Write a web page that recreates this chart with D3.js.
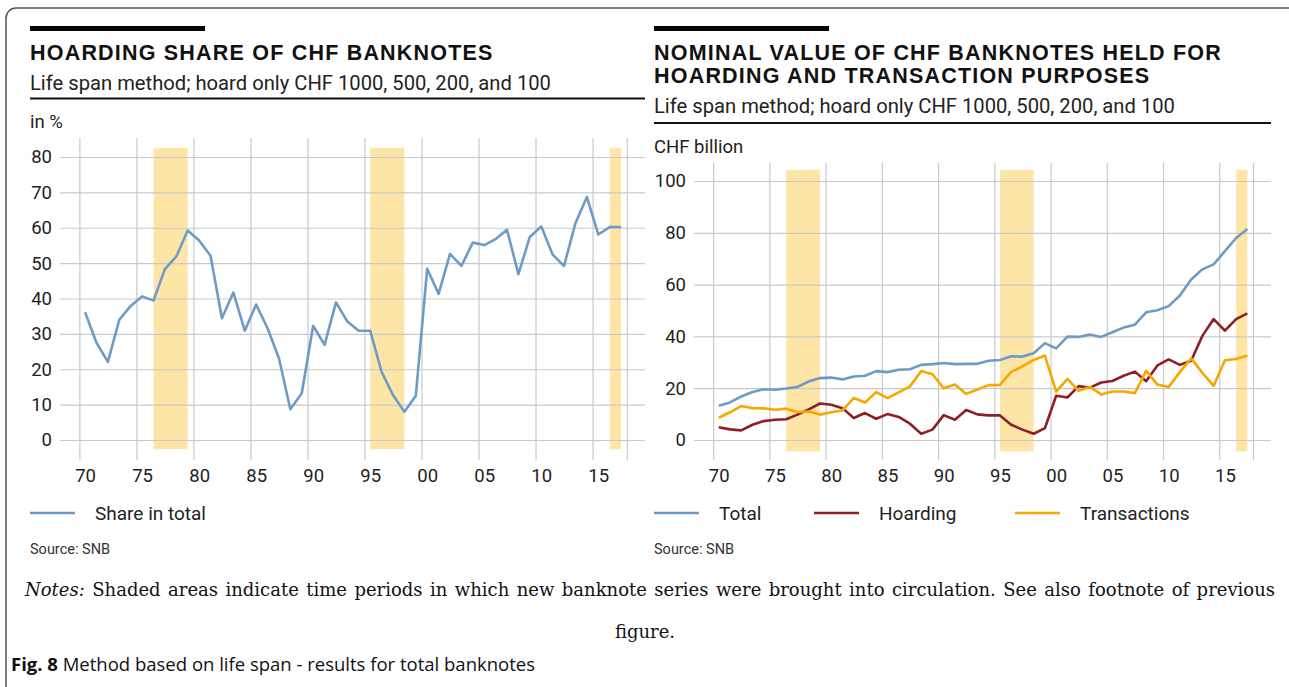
<!DOCTYPE html>
<html>
<head>
<meta charset="utf-8">
<script src="https://cdn.jsdelivr.net/npm/d3@7"></script>
<style>
  body { margin: 0; background: #fff; }
  svg text { font-family: Roboto, "Liberation Sans", sans-serif; fill: #222; }
  .grid line { stroke: #c9c9c9; stroke-width: 1.2; }
  .grid path { display: none; }
</style>
</head>
<body>
<div id="root"></div>
<script>
const years = [
  1970, 1971, 1972, 1973, 1974, 1975, 1976, 1977, 1978, 1979,
  1980, 1981, 1982, 1983, 1984, 1985, 1986, 1987, 1988, 1989,
  1990, 1991, 1992, 1993, 1994, 1995, 1996, 1997, 1998, 1999,
  2000, 2001, 2002, 2003, 2004, 2005, 2006, 2007, 2008, 2009,
  2010, 2011, 2012, 2013, 2014, 2015, 2016, 2017
]

// hoarding share, in %
const shareInTotal = [
  36.1, 27.5, 22.1, 34.0, 37.9, 40.6, 39.4, 48.3, 51.9, 59.2,
  56.4, 52.1, 34.4, 41.7, 30.9, 38.3, 31.6, 23.1, 8.7, 13.2,
  32.3, 26.9, 38.9, 33.5, 30.9, 30.9, 19.3, 12.7, 8.0, 12.5,
  48.4, 41.3, 52.6, 49.2, 55.8, 55.1, 56.8, 59.4, 46.9, 57.4,
  60.4, 52.4, 49.2, 61.3, 68.7, 58.1, 60.2, 60.2
]

// CHF billion
const totalNotes = [
  13.2, 14.5, 16.8, 18.5, 19.6, 19.4, 19.9, 20.5, 22.6, 23.9,
  24.1, 23.4, 24.5, 24.8, 26.6, 26.2, 27.1, 27.3, 29.0, 29.3,
  29.7, 29.3, 29.4, 29.4, 30.6, 30.9, 32.3, 32.2, 33.5, 37.4,
  35.4, 39.9, 39.8, 40.7, 39.8, 41.6, 43.4, 44.5, 49.3, 50.1,
  51.7, 55.8, 62.0, 65.9, 67.8, 72.9, 78.0, 81.5
]

const hoardingNotes = [
  4.9, 4.1, 3.7, 5.9, 7.3, 7.8, 8.0, 9.8, 11.8, 14.1,
  13.6, 12.3, 8.5, 10.4, 8.2, 10.0, 8.9, 6.3, 2.4, 4.0,
  9.6, 7.8, 11.6, 9.9, 9.5, 9.5, 5.9, 4.0, 2.4, 4.6,
  17.1, 16.4, 20.8, 20.2, 22.2, 22.8, 24.8, 26.4, 22.7, 28.8,
  31.1, 29.0, 30.6, 40.2, 46.7, 42.2, 46.7, 48.9
]

const transactionNotes = [
  8.6, 10.7, 13.1, 12.3, 12.2, 11.7, 12.1, 10.8, 11.0, 9.8,
  10.7, 11.4, 16.2, 14.5, 18.5, 16.2, 18.4, 20.7, 26.6, 25.4,
  20.0, 21.4, 17.8, 19.5, 21.2, 21.3, 26.3, 28.4, 30.9, 32.6,
  18.7, 23.6, 19.0, 20.5, 17.6, 18.7, 18.7, 18.1, 26.7, 21.4,
  20.5, 26.2, 31.5, 25.9, 20.9, 30.8, 31.3, 32.6
]

// new banknote series brought into circulation
const newSeriesPeriods = [[1976.5, 1979.5], [1995.5, 1998.5], [2016.5, 2017.5]]

const gridYears = [1970, 1975, 1980, 1985, 1990, 1995, 2000, 2005, 2010, 2015, 2018]
const labelYears = [1970, 1975, 1980, 1985, 1990, 1995, 2000, 2005, 2010, 2015]
const shareTicks = [0, 10, 20, 30, 40, 50, 60, 70, 80]
const valueTicks = [0, 20, 40, 60, 80, 100]

const colors = { total: '#6e9bc5', hoarding: '#8e1f24', transactions: '#f6a800', band: '#fde5a8' }

const W = 1289, H = 687
const svg = d3.select('#root').append('svg')
  .attr('width', W)
  .attr('height', H)

// frame round the figure
svg.append('rect')
  .attr('x', 6).attr('y', 8)
  .attr('width', 1300).attr('height', 700)
  .attr('rx', 10)
  .attr('fill', 'none')
  .attr('stroke', '#555')
  .attr('stroke-width', 1.5)

function header(x, ruleEnd, titles, subY, ruleY, unitY, unit) {
  svg.append('rect')
    .attr('x', x).attr('y', 26)
    .attr('width', 175).attr('height', 5)
    .attr('fill', '#000')
  titles.forEach((t, i) => {
    svg.append('text')
      .attr('x', x).attr('y', 60 + i * 23)
      .style('font-family', '"Liberation Sans", Arial, sans-serif')
      .style('font-weight', 'bold')
      .style('font-size', '21.5px')
      .style('letter-spacing', '1.2px')
      .style('fill', '#111')
      .text(t)
  })
  svg.append('text')
    .attr('x', x).attr('y', subY)
    .style('font-size', '20.2px')
    .text('Life span method; hoard only CHF 1000, 500, 200, and 100')
  svg.append('line')
    .attr('x1', x).attr('x2', ruleEnd)
    .attr('y1', ruleY).attr('y2', ruleY)
    .attr('stroke', '#111')
    .attr('stroke-width', 2)
  svg.append('text')
    .attr('x', x).attr('y', unitY)
    .style('font-size', '18.5px')
    .text(unit)
}

function panel(o) {
  const x = d3.scaleLinear().domain([1968.3, 2019.6]).range([o.x0, o.x1])
  const y = d3.scaleLinear().domain([0, o.yMax]).range([440, o.yTop])
  const g = svg.append('g')

  // shaded periods
  g.selectAll('rect.band')
    .data(newSeriesPeriods)
    .enter()
    .append('rect')
    .attr('class', 'band')
    .attr('x', d => x(d[0]))
    .attr('width', d => x(d[1]) - x(d[0]))
    .attr('y', y(o.bandTop))
    .attr('height', y(o.bandBottom) - y(o.bandTop))
    .attr('fill', colors.band)

  // vertical grid
  g.append('g')
    .attr('class', 'grid')
    .attr('transform', `translate(0, 460)`)
    .call(d3.axisBottom(x).tickValues(gridYears).tickSize(-(460 - o.gridTop)).tickFormat(''))

  // horizontal grid + y labels
  const axisY = g.append('g')
    .attr('class', 'grid')
    .attr('transform', `translate(${o.x0}, 0)`)
    .call(d3.axisLeft(y).tickValues(o.ticksY).tickSize(-(o.x1 - o.x0)).tickPadding(8))
  axisY.selectAll('text').style('font-size', '18.5px').style('font-family', null).attr('fill', null)

  // x labels sit in the middle of the year
  const axisX = g.append('g')
    .attr('class', 'grid')
    .attr('transform', `translate(0, 460)`)
    .call(d3.axisBottom(x)
      .tickValues(labelYears.map(d => d + 0.5))
      .tickSize(0)
      .tickPadding(9)
      .tickFormat(d => String(Math.floor(d) % 100).padStart(2, '0')))
  axisX.selectAll('text').style('font-size', '18.5px').style('font-family', null).attr('fill', null)

  const line = values => d3.line()
    .x((d, i) => x(years[i] + 0.5))
    .y(d => y(d))(values)

  o.series.forEach(s => {
    g.append('path')
      .attr('d', line(s.values))
      .attr('fill', 'none')
      .attr('stroke', s.color)
      .attr('stroke-width', 2.6)
      .attr('stroke-linejoin', 'round')
  })

  // legend
  o.legend.forEach(l => {
    g.append('line')
      .attr('x1', l.x).attr('x2', l.x + 45)
      .attr('y1', 513).attr('y2', 513)
      .attr('stroke', l.color)
      .attr('stroke-width', 2.6)
    g.append('text')
      .attr('x', l.x + 65).attr('y', 520)
      .style('font-size', '19px')
      .text(l.name)
  })

  g.append('text')
    .attr('x', o.legend[0].x).attr('y', 554)
    .style('font-size', '14.5px')
    .style('fill', '#333')
    .text('Source: SNB')
}

header(30, 645, ['HOARDING SHARE OF CHF BANKNOTES'], 90, 98.5, 128, 'in %')
header(654, 1271, ['NOMINAL VALUE OF CHF BANKNOTES HELD FOR', 'HOARDING AND TRANSACTION PURPOSES'], 113, 123, 153, 'CHF billion')

panel({
  x0: 60, x1: 645, yMax: 80, yTop: 157, gridTop: 138,
  ticksY: shareTicks, bandTop: 82.6, bandBottom: -2.6,
  series: [{ values: shareInTotal, color: colors.total }],
  legend: [{ x: 30, name: 'Share in total', color: colors.total }]
})

panel({
  x0: 694, x1: 1271, yMax: 100, yTop: 181, gridTop: 163,
  ticksY: valueTicks, bandTop: 104.3, bandBottom: -4.4,
  series: [
    { values: totalNotes, color: colors.total },
    { values: hoardingNotes, color: colors.hoarding },
    { values: transactionNotes, color: colors.transactions }
  ],
  legend: [
    { x: 654, name: 'Total', color: colors.total },
    { x: 814, name: 'Hoarding', color: colors.hoarding },
    { x: 1015, name: 'Transactions', color: colors.transactions }
  ]
})

// notes, justified to the text width
const serif = '"DejaVu Serif", "Liberation Serif", serif'
const notes = svg.append('text')
  .attr('x', 25).attr('y', 596)
  .style('font-family', serif)
  .style('font-size', '18px')
  .style('fill', '#111')
notes.append('tspan').style('font-style', 'italic').text('Notes:')
notes.append('tspan').text(' Shaded areas indicate time periods in which new banknote series were brought into circulation. See also footnote of previous')
const notesWidth = notes.node().getComputedTextLength()
const gaps = notes.text().split(' ').length - 1
notes.style('word-spacing', `${(1250 - notesWidth) / gaps}px`)

svg.append('text')
  .attr('x', 645).attr('y', 638)
  .attr('text-anchor', 'middle')
  .style('font-family', serif)
  .style('font-size', '18px')
  .style('fill', '#111')
  .text('figure.')

const caption = svg.append('text')
  .attr('x', 11).attr('y', 671)
  .style('font-family', '"Open Sans", Roboto, sans-serif')
  .style('font-size', '18.5px')
  .style('fill', '#111')
caption.append('tspan').style('font-weight', 'bold').text('Fig. 8')
caption.append('tspan').text(' Method based on life span - results for total banknotes')
</script>
</body>
</html>
